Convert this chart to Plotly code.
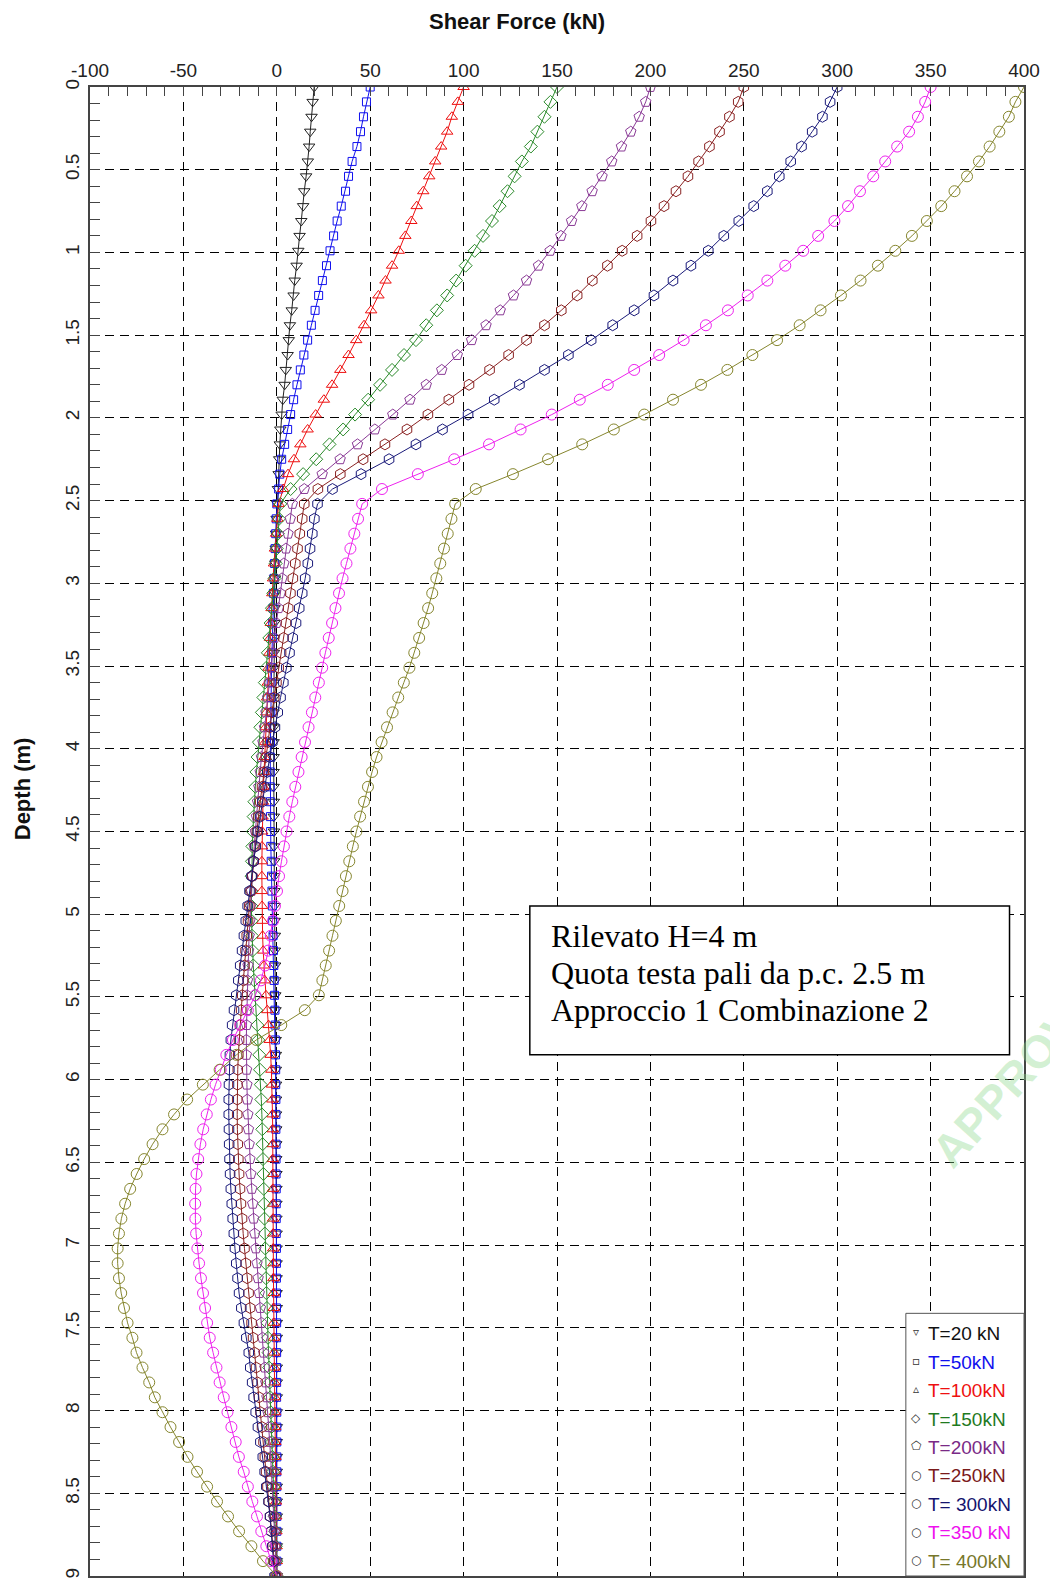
import plotly.graph_objects as go

# Depth of the computation nodes along the pile (m)
depth = [
    0.0, 0.09, 0.18, 0.27, 0.36, 0.45, 0.54, 0.63, 0.72, 0.81,
    0.9, 0.99, 1.08, 1.17, 1.26, 1.35, 1.44, 1.53, 1.62, 1.71,
    1.8, 1.89, 1.98, 2.07, 2.16, 2.25, 2.34, 2.43, 2.52, 2.61,
    2.7, 2.79, 2.88, 2.97, 3.06, 3.15, 3.24, 3.33, 3.42, 3.51,
    3.6, 3.69, 3.78, 3.87, 3.96, 4.05, 4.14, 4.23, 4.32, 4.41,
    4.5, 4.59, 4.68, 4.77, 4.86, 4.95, 5.04, 5.13, 5.22, 5.31,
    5.4, 5.49, 5.58, 5.67, 5.76, 5.85, 5.94, 6.03, 6.12, 6.21,
    6.3, 6.39, 6.48, 6.57, 6.66, 6.75, 6.84, 6.93, 7.02, 7.11,
    7.2, 7.29, 7.38, 7.47, 7.56, 7.65, 7.74, 7.83, 7.92, 8.01,
    8.1, 8.19, 8.28, 8.37, 8.46, 8.55, 8.64, 8.73, 8.82, 8.91,
    9.0,
]

# Shear force (kN) for each horizontal load T
shear_T20 = [
    20.0, 19.2, 18.6, 17.9, 17.3, 16.6, 15.7, 14.7, 14.1, 13.1,
    12.2, 11.5, 10.6, 9.6, 9.0, 8.0, 7.0, 6.4, 5.8, 4.8,
    4.2, 3.2, 2.6, 1.9, 1.6, 1.3, 1.0, 0.6, 0.3, -0.1,
    -0.4, -0.6, -0.8, -1.0, -1.1, -1.2, -1.3, -1.4, -1.5, -1.5,
    -1.6, -1.6, -1.7, -1.7, -1.7, -1.7, -1.7, -1.7, -1.6, -1.6,
    -1.5, -1.5, -1.4, -1.3, -1.3, -1.2, -1.1, -1.0, -1.0, -0.9,
    -0.8, -0.8, -0.7, -0.6, -0.6, -0.5, -0.5, -0.4, -0.4, -0.4,
    -0.3, -0.3, -0.3, -0.2, -0.2, -0.2, -0.2, -0.1, -0.1, -0.1,
    -0.1, -0.1, 0.0, 0.0, 0.0, 0.0, 0.0, 0.0, 0.0, 0.0,
    0.0, 0.0, 0.0, 0.0, 0.0, 0.0, 0.0, 0.0, 0.0, 0.0,
    0.0,
]
shear_T50 = [
    50.0, 48.0, 46.4, 44.8, 42.9, 40.3, 38.4, 36.8, 34.5, 32.3,
    30.4, 28.5, 26.6, 24.4, 22.4, 20.5, 18.5, 16.5, 14.5, 12.6,
    10.8, 9.0, 7.4, 5.8, 4.2, 2.6, 1.6, 1.0, 0.0, -0.3,
    -0.6, -0.9, -1.2, -1.5, -1.8, -2.0, -2.2, -2.4, -2.6, -2.8,
    -3.0, -3.1, -3.2, -3.3, -3.4, -3.5, -3.5, -3.5, -3.5, -3.4,
    -3.3, -3.2, -3.0, -2.8, -2.6, -2.4, -2.2, -2.0, -1.8, -1.6,
    -1.4, -1.2, -1.0, -0.9, -0.8, -0.7, -0.6, -0.6, -0.5, -0.5,
    -0.5, -0.4, -0.4, -0.4, -0.3, -0.3, -0.3, -0.3, -0.2, -0.2,
    -0.2, -0.2, -0.2, -0.1, -0.1, -0.1, -0.1, -0.1, -0.1, 0.0,
    0.0, 0.0, 0.0, 0.0, 0.0, 0.0, 0.0, 0.0, 0.0, 0.0,
    0.0,
]
shear_T100 = [
    100.0, 96.9, 93.7, 91.2, 88.0, 84.8, 81.6, 78.4, 74.9, 72.0,
    68.8, 65.3, 61.7, 58.2, 54.4, 50.5, 46.7, 42.5, 38.4, 34.0,
    29.6, 25.2, 20.8, 16.5, 12.6, 9.2, 6.0, 3.4, 1.0, 0.3,
    -0.4, -1.0, -1.5, -2.0, -2.4, -2.8, -3.2, -3.6, -4.0, -4.4,
    -4.8, -5.2, -5.6, -6.0, -6.3, -6.6, -6.9, -7.2, -7.4, -7.6,
    -7.8, -7.9, -8.0, -8.0, -8.0, -7.9, -7.8, -7.6, -7.3, -6.9,
    -6.4, -5.8, -5.1, -4.4, -3.8, -3.3, -2.9, -2.6, -2.4, -2.3,
    -2.2, -2.2, -2.2, -2.1, -2.1, -2.0, -2.0, -1.9, -1.9, -1.8,
    -1.8, -1.7, -1.7, -1.6, -1.5, -1.4, -1.3, -1.2, -1.1, -1.0,
    -0.9, -0.8, -0.7, -0.6, -0.5, -0.4, -0.3, -0.2, -0.1, 0.0,
    0.0,
]
shear_T150 = [
    150.0, 146.5, 143.3, 139.5, 136.0, 131.2, 127.3, 123.5, 119.3, 115.2,
    110.4, 105.9, 101.1, 96.0, 91.2, 85.7, 80.0, 74.5, 68.1, 61.7,
    55.3, 48.9, 41.9, 35.5, 28.2, 21.1, 14.1, 7.4, 1.9, 1.2,
    0.6, 0.0, -0.6, -1.2, -1.9, -2.6, -3.3, -4.0, -4.8, -5.6,
    -6.4, -7.2, -8.0, -8.8, -9.6, -10.3, -10.9, -11.5, -12.0, -12.4,
    -12.8, -13.1, -13.3, -13.5, -13.6, -13.6, -13.5, -13.3, -13.0, -12.6,
    -12.1, -11.6, -11.0, -10.4, -9.9, -9.4, -9.0, -8.6, -8.3, -8.0,
    -7.8, -7.6, -7.4, -7.2, -7.0, -6.8, -6.6, -6.4, -6.2, -6.0,
    -5.8, -5.6, -5.3, -5.0, -4.7, -4.4, -4.1, -3.8, -3.5, -3.2,
    -2.9, -2.6, -2.3, -2.0, -1.7, -1.4, -1.1, -0.8, -0.5, -0.3,
    0.0,
]
shear_T200 = [
    200.0, 197.5, 194.0, 189.5, 184.5, 179.3, 174.1, 168.8, 163.3, 157.8,
    152.1, 146.3, 140.1, 133.7, 126.7, 119.6, 112.0, 104.3, 96.6, 88.3,
    80.0, 71.3, 62.1, 52.5, 43.2, 33.9, 24.3, 14.7, 8.3, 7.2,
    6.0, 4.9, 3.8, 2.8, 1.9, 0.9, -0.2, -1.3, -2.2, -3.1,
    -4.0, -4.9, -5.8, -6.6, -7.4, -8.2, -8.9, -9.6, -10.3, -10.9,
    -11.5, -12.1, -12.6, -13.1, -13.6, -14.0, -14.4, -14.8, -15.1, -15.4,
    -15.7, -15.9, -16.1, -16.2, -16.3, -16.3, -16.2, -16.0, -15.8, -15.5,
    -15.2, -14.8, -14.4, -13.9, -13.4, -12.9, -12.4, -11.8, -11.2, -10.6,
    -10.0, -9.4, -8.8, -8.2, -7.6, -7.0, -6.4, -5.9, -5.3, -4.8,
    -4.3, -3.8, -3.3, -2.9, -2.5, -2.1, -1.7, -1.3, -0.9, -0.5,
    0.0,
]
shear_T250 = [
    250.0, 247.0, 242.3, 237.0, 231.6, 225.8, 220.1, 213.7, 207.3, 200.3,
    192.9, 184.9, 177.0, 168.9, 160.8, 152.3, 143.3, 133.7, 124.1, 113.9,
    102.9, 92.1, 80.9, 69.7, 57.9, 46.2, 34.0, 22.0, 14.7, 13.6,
    12.3, 11.1, 9.9, 8.6, 7.3, 6.1, 4.9, 3.6, 2.3, 1.0,
    -0.2, -1.4, -2.6, -3.7, -4.8, -5.9, -6.9, -7.9, -8.9, -9.8,
    -10.7, -11.6, -12.4, -13.2, -14.0, -14.7, -15.4, -16.1, -16.7, -17.3,
    -17.9, -18.5, -19.1, -19.7, -20.2, -20.6, -20.9, -21.1, -21.2, -21.2,
    -21.1, -20.9, -20.6, -20.2, -19.7, -19.2, -18.6, -18.0, -17.3, -16.6,
    -15.9, -15.1, -14.3, -13.5, -12.7, -11.9, -11.1, -10.3, -9.5, -8.7,
    -7.9, -7.1, -6.4, -5.7, -5.0, -4.3, -3.6, -2.9, -2.2, -1.4,
    -0.6,
]
shear_T300 = [
    300.0, 296.2, 292.1, 286.6, 280.9, 275.1, 269.0, 262.6, 255.3, 247.3,
    239.3, 231.0, 221.7, 212.1, 201.9, 191.3, 179.8, 168.3, 156.1, 143.3,
    129.9, 116.4, 102.4, 88.7, 74.5, 60.1, 45.1, 29.8, 21.8, 20.1,
    19.0, 17.8, 16.6, 15.2, 13.6, 12.0, 10.3, 8.5, 6.8, 5.1,
    3.5, 2.0, 0.5, -1.0, -2.4, -3.8, -5.1, -6.4, -7.7, -8.9,
    -10.1, -11.3, -12.4, -13.5, -14.6, -15.6, -16.6, -17.6, -18.6, -19.6,
    -20.6, -21.7, -22.9, -23.9, -24.6, -25.1, -25.4, -25.6, -25.7, -25.7,
    -25.6, -25.5, -25.3, -25.0, -24.6, -24.1, -23.6, -23.0, -22.4, -21.7,
    -21.0, -20.2, -19.0, -17.6, -16.3, -15.0, -14.2, -13.2, -12.4, -11.3,
    -10.1, -8.8, -7.5, -6.5, -5.6, -4.4, -3.6, -3.0, -2.4, -1.8,
    -1.2,
]
shear_T350 = [
    350.0, 347.1, 343.2, 338.5, 332.1, 325.7, 319.3, 312.2, 305.8, 298.5,
    289.8, 281.8, 272.2, 262.6, 252.1, 241.5, 229.7, 217.8, 204.7, 191.3,
    177.2, 162.2, 147.2, 130.5, 113.6, 95.0, 75.5, 56.3, 45.7, 43.5,
    41.5, 39.4, 37.3, 35.2, 33.3, 31.4, 29.6, 27.8, 26.0, 24.3,
    22.5, 20.6, 18.8, 17.0, 15.1, 13.3, 11.6, 9.9, 8.3, 6.7,
    5.2, 3.8, 2.5, 1.2, 0.1, -1.0, -2.0, -3.2, -4.6, -6.3,
    -8.5, -11.5, -15.5, -19.5, -23.5, -27.0, -30.0, -32.8, -35.3, -37.5,
    -39.4, -40.9, -42.1, -43.0, -43.5, -43.7, -43.6, -43.2, -42.5, -41.6,
    -40.6, -39.5, -38.4, -37.3, -35.9, -34.1, -32.3, -30.6, -28.4, -26.4,
    -24.3, -22.0, -20.3, -17.7, -15.5, -13.1, -10.6, -8.3, -5.6, -3.0,
    0.0,
]
shear_T400 = [
    400.0, 395.4, 391.9, 386.8, 381.6, 375.9, 369.5, 362.8, 355.7, 348.0,
    340.0, 331.1, 321.8, 312.5, 302.0, 291.1, 279.9, 267.8, 254.6, 241.2,
    227.1, 212.1, 196.7, 180.4, 163.5, 145.2, 126.4, 106.5, 95.5, 93.5,
    91.5, 89.5, 87.5, 85.4, 83.2, 81.0, 78.6, 76.2, 73.6, 71.0,
    68.0, 65.0, 62.0, 59.0, 56.1, 53.4, 51.0, 48.8, 46.7, 44.6,
    42.6, 40.7, 38.8, 37.0, 35.2, 33.4, 31.6, 29.8, 28.0, 26.2,
    24.4, 22.5, 15.0, 2.4, -11.0, -21.6, -30.6, -39.6, -48.0, -55.0,
    -61.2, -66.5, -71.0, -75.0, -78.5, -81.2, -83.2, -84.5, -85.2, -85.2,
    -84.5, -83.3, -81.8, -79.9, -77.3, -75.1, -71.9, -68.3, -65.3, -61.2,
    -56.9, -52.3, -47.8, -42.7, -37.3, -32.0, -26.1, -20.2, -13.6, -7.4,
    0.0,
]

series_names = ["T=20 kN", "T=50kN", "T=100kN", "T=150kN", "T=200kN",
                "T=250kN", "T= 300kN", "T=350 kN", "T= 400kN"]
series_values = [shear_T20, shear_T50, shear_T100, shear_T150, shear_T200,
                 shear_T250, shear_T300, shear_T350, shear_T400]

# Axis tick values and their labels
x_ticks = [-100, -50, 0, 50, 100, 150, 200, 250, 300, 350, 400]
x_tick_labels = ["-100", "-50", "0", "50", "100", "150", "200", "250", "300", "350", "400"]

line_colors = ["#222222", "#1010ee", "#ee1010", "#2a8a2a", "#8a3a96",
               "#8a2222", "#1a1a7a", "#ee22ee", "#86862e"]
text_colors = ["#111111", "#1010ee", "#ee1010", "#1f7a1f", "#7a2a86",
               "#7a1a1a", "#14146e", "#ee11ee", "#77772a"]
plot_symbols = ["triangle-down-open", "square-open", "triangle-up-open",
                "diamond-open", "pentagon-open", "hexagon-open",
                "hexagon-open", "circle-open", "circle-open"]
plot_sizes = [10, 8, 10, 10, 11, 11, 11, 11, 11]
legend_glyphs = ["▿", "▫", "▵", "◇", "⬠", "○", "○", "○", "○"]

fig = go.Figure()

for i, (name, vals) in enumerate(zip(series_names, series_values)):
    fig.add_trace(go.Scatter(
        x=vals, y=depth, mode="lines+markers", name=name,
        line=dict(color=line_colors[i], width=1),
        marker=dict(symbol=plot_symbols[i], size=plot_sizes[i],
                    color=line_colors[i], line=dict(width=1)),
        showlegend=False,
    ))

sans = "Liberation Sans, Arial, sans-serif"
axis_font = dict(family=sans, size=19, color="#222222")

fig.update_xaxes(
    side="top", range=[-100, 400], tickvals=x_ticks, ticktext=x_tick_labels,
    showgrid=True, gridcolor="#000000", gridwidth=1, griddash="9px,6px",
    zeroline=False, showline=True, linecolor="#444444", linewidth=2, mirror=True,
    ticks="inside", ticklen=9, tickcolor="#444444", tickwidth=1,
    minor=dict(dtick=10, ticks="inside", ticklen=9, tickcolor="#444444",
               tickwidth=1, showgrid=False),
    tickfont=axis_font, ticklabelstandoff=0,
)
fig.update_yaxes(
    range=[9, 0], dtick=0.5, tick0=0,
    showgrid=True, gridcolor="#000000", gridwidth=1, griddash="9px,6px",
    zeroline=False, showline=True, linecolor="#444444", linewidth=2, mirror=True,
    ticks="inside", ticklen=10, tickcolor="#444444", tickwidth=1,
    minor=dict(dtick=0.1, ticks="inside", ticklen=10, tickcolor="#444444",
               tickwidth=1, showgrid=False),
    tickfont=axis_font, tickangle=-90, ticklabelstandoff=1,
)

fig.update_layout(
    width=1050, height=1588,
    margin=dict(l=90, r=23, t=87, b=10),
    paper_bgcolor="#ffffff", plot_bgcolor="#ffffff",
    showlegend=False,
    title=dict(text="<b>Shear Force (kN)</b>", x=0.4924, xref="container",
               xanchor="center", y=0.9868, yref="container", yanchor="middle",
               font=dict(family=sans, size=22, color="#111111")),
)

# Y-axis label
fig.add_annotation(
    text="<b>Depth (m)</b>", xref="paper", yref="paper", x=-0.0726, y=0.5285,
    textangle=-90, showarrow=False, xanchor="center", yanchor="middle",
    font=dict(family=sans, size=22, color="#111111"),
)

# Information box
fig.add_shape(type="rect", xref="paper", yref="paper",
              x0=0.4709, x1=0.9845, y0=0.3501, y1=0.4500,
              line=dict(color="#000000", width=1.5), fillcolor="#ffffff", layer="above")
info_lines = ["Rilevato H=4 m", "Quota testa pali da p.c. 2.5 m", "Approccio 1 Combinazione 2"]
info_y = [0.4299, 0.4050, 0.3801]
for txt, yy in zip(info_lines, info_y):
    fig.add_annotation(
        text=txt, xref="paper", yref="paper", x=0.4915, y=yy,
        xanchor="left", yanchor="middle", showarrow=False, align="left",
        font=dict(family="Liberation Serif, Times New Roman, serif", size=32,
                  color="#000000"),
    )

# Legend box in the lower-right corner of the plot
fig.add_shape(type="rect", xref="paper", yref="paper",
              x0=0.8735, x1=1.0, y0=0.0, y1=0.1764,
              line=dict(color="#555555", width=1), fillcolor="#ffffff", layer="above")
legend_row_y = [0.1628, 0.1436, 0.1245, 0.1054, 0.0863, 0.0672, 0.0481, 0.0290, 0.0100]
for i, name in enumerate(series_names):
    fig.add_annotation(
        text=legend_glyphs[i], xref="paper", yref="paper", x=0.8846, y=legend_row_y[i] + 0.0008,
        xanchor="center", yanchor="middle", showarrow=False,
        font=dict(family="DejaVu Sans, sans-serif", size=12, color="#333333"),
    )
    fig.add_annotation(
        text=name, xref="paper", yref="paper", x=0.8955, y=legend_row_y[i],
        xanchor="left", yanchor="middle", showarrow=False,
        font=dict(family=sans, size=19, color=text_colors[i]),
    )

# Faint stamp at the right edge
fig.add_annotation(
    text="<b>APPROVED</b>", xref="paper", yref="paper", x=1.003, y=0.3440,
    textangle=-48, showarrow=False, xanchor="center", yanchor="middle",
    font=dict(family=sans, size=46, color="rgba(140,215,140,0.38)"),
)

fig.write_html("out.html")
